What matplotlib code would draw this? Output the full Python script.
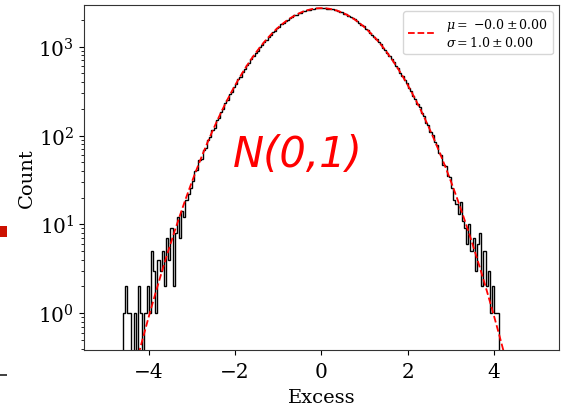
import numpy as np
import matplotlib
matplotlib.use("Agg")
import matplotlib.pyplot as plt
from matplotlib.patches import Rectangle

plt.rcParams['font.family'] = 'DejaVu Serif'
plt.rcParams['mathtext.fontset'] = 'dejavuserif'

# histogram of the excess, bins of 0.05 starting at -4.6
bin_start = -4.6
bin_width = 0.05
counts_left = [
    1, 2, 1, 1, 0, 1, 0, 2, 1, 0,
    1, 2, 1, 5, 3, 1, 4, 3, 5, 2,
    7, 4, 9, 2, 8, 12, 7, 14, 12, 19,
    22, 26, 31, 40, 41, 53, 55, 69, 72, 90,
    96, 115, 122, 148, 158, 186, 201, 232, 251, 290,
    311, 356, 381, 431, 462, 520, 556, 621, 662, 733,
    779, 858, 905, 992, 1048, 1140, 1196, 1293, 1352, 1452,
    1517, 1618, 1680, 1785, 1845, 1948, 2003, 2101, 2155, 2249,
    2294, 2381, 2418, 2494, 2523, 2590, 2607, 2661, 2668, 2708,
    2701, 2727,
]
counts_right = [
    2712, 2720, 2690, 2688, 2641, 2630, 2569, 2546, 2476, 2441,
    2361, 2318, 2229, 2177, 2083, 2026, 1927, 1866, 1765, 1703,
    1600, 1535, 1437, 1372, 1277, 1215, 1124, 1064, 978, 922,
    843, 793, 719, 675, 607, 569, 508, 474, 420, 392,
    345, 320, 280, 260, 225, 208, 178, 165, 140, 130,
    109, 101, 84, 79, 63, 60, 47, 45, 35, 34,
    26, 19, 17, 13, 18, 11, 9, 6, 10, 5,
    7, 3, 6, 8, 2, 5, 2, 3, 1, 2,
    1, 1,
]
counts = np.array(counts_left + counts_right, dtype=float)
edges = bin_start + bin_width * np.arange(len(counts) + 1)

# gaussian fit
fit_mu = 0.0
fit_sigma = 1.0
fit_amp = 2720.0
mu_err = 0.00
sigma_err = 0.00

fig = plt.figure(figsize=(5.69, 4.10), dpi=100)
ax = fig.add_axes([0.1476, 0.1439, 0.9824 - 0.1476, 0.9854 - 0.1439])

ax.stairs(counts, edges, color='k', linewidth=1.0, baseline=0)
xx = np.linspace(-5.5, 5.5, 600)
yy = fit_amp * np.exp(-0.5 * ((xx - fit_mu) / fit_sigma) ** 2)
ax.plot(xx, yy, color='red', linestyle='--', linewidth=1.3,
        label='$\\mu=$ $-%.1f \\pm %.2f$\n$\\sigma=%.1f \\pm %.2f$' % (fit_mu, mu_err, fit_sigma, sigma_err))

ax.set_yscale('log')
ax.set_xlim(-5.5, 5.5)
ax.set_ylim(0.385, 2950)
ax.set_xticks([-4, -2, 0, 2, 4])
ax.tick_params(axis='x', labelsize=14.5, pad=5)
ax.tick_params(axis='y', labelsize=14.5, pad=3.5)
ax.set_xlabel('Excess', fontsize=14, labelpad=5)
ax.set_ylabel('Count', fontsize=14, labelpad=2)
for s in ax.spines.values():
    s.set_color('0.2')

ax.text(-0.55, 62, 'N(0,1)', color='red', fontsize=30, style='italic',
        family='DejaVu Sans', ha='center', va='center')
ax.legend(loc='upper right', fontsize=9, handlelength=2.2)

# bits of neighbouring images at the left edge
fig.add_artist(Rectangle((0, 1 - 238 / 410), 7 / 569, 11 / 410, transform=fig.transFigure,
                         color='#cc1100', lw=0))
fig.add_artist(Rectangle((0, 1 - 377 / 410), 7 / 569, 2 / 410, transform=fig.transFigure,
                         color='#444444', lw=0))

fig.savefig('out.png', dpi=100)
